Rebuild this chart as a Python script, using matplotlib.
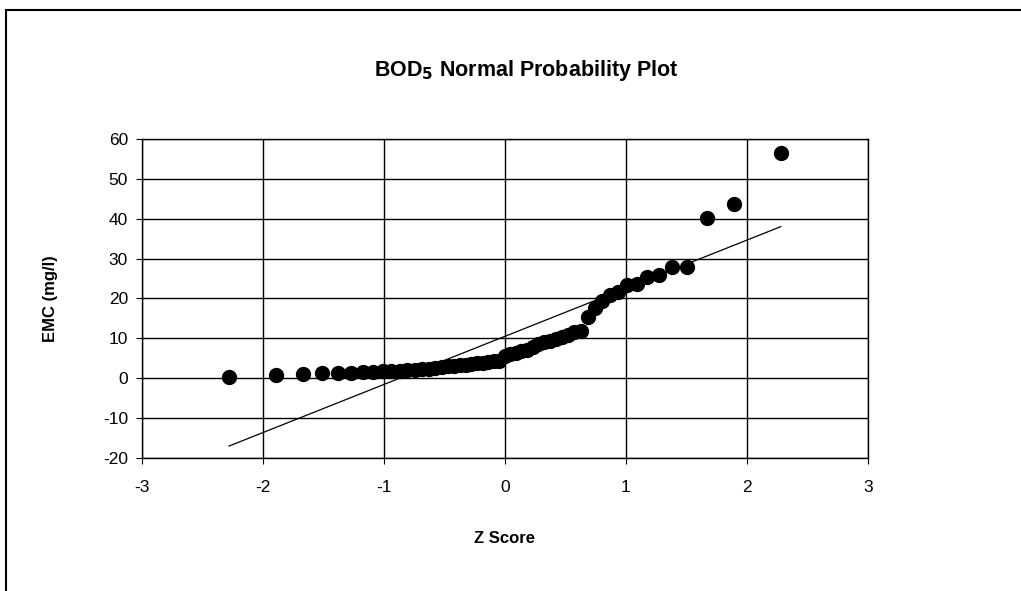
import numpy as np
import matplotlib.pyplot as plt

# --- datos: z score (posiciones de Blom, n=55) y EMC ordenada ---
z_score = [-2.280, -1.890, -1.669, -1.509, -1.380, -1.271, -1.175, -1.090, -1.011,
           -0.938, -0.869, -0.805, -0.744, -0.685, -0.629, -0.574, -0.522, -0.471,
           -0.420, -0.371, -0.323, -0.276, -0.229, -0.182, -0.137, -0.091, -0.045,
           0.000,
           0.045, 0.091, 0.137, 0.182, 0.229, 0.276, 0.323, 0.371, 0.420,
           0.471, 0.522, 0.574, 0.629, 0.685, 0.744, 0.805, 0.869, 0.938,
           1.011, 1.090, 1.175, 1.271, 1.380, 1.509, 1.669, 1.890, 2.280]

emc = [0.3, 0.7, 1.0, 1.2, 1.3, 1.4, 1.5, 1.6, 1.7,
       1.8, 1.9, 2.0, 2.1, 2.3, 2.4, 2.6, 2.8, 3.0,
       3.1, 3.2, 3.4, 3.5, 3.7, 3.9, 4.0, 4.2, 4.4,
       5.5,
       6.0, 6.4, 6.8, 7.2, 7.8, 8.5, 9.0, 9.4, 9.8,
       10.3, 10.9, 11.6, 11.8, 15.3, 17.5, 19.3, 20.8, 21.7,
       23.4, 23.7, 25.3, 26.0, 28.0, 28.0, 40.2, 43.8, 56.4]

# recta de referencia normal (extremos)
linea_z = [-2.28, 2.28]
linea_emc = [-17.0, 38.0]

x_ticks = [-3, -2, -1, 0, 1, 2, 3]
y_ticks = [-20, -10, 0, 10, 20, 30, 40, 50, 60]

plt.rcParams['font.family'] = ['Liberation Sans', 'DejaVu Sans']
plt.rcParams['axes.unicode_minus'] = False

fig = plt.figure(figsize=(10.21, 5.91), dpi=100)
ax = fig.add_axes([0.139, 0.225, 0.711, 0.540])

ax.plot(linea_z, linea_emc, color='black', linewidth=0.9, zorder=2)
ax.plot(z_score, emc, 'o', color='black', markersize=10, zorder=3)

ax.set_xlim(-3, 3); ax.set_ylim(-20, 60)
ax.set_xticks(x_ticks); ax.set_yticks(y_ticks)
ax.grid(True, color='black', linewidth=1.0)
ax.set_axisbelow(True)
for s in ax.spines.values():
    s.set_color('black'); s.set_linewidth(1.0)
ax.tick_params(labelsize=12.5, length=4, color='black')
ax.tick_params(axis='x', pad=12)
ax.tick_params(axis='y', pad=6)

ax.set_xlabel('Z Score', fontsize=12, fontweight='bold', labelpad=26)
ax.set_ylabel('EMC (mg/l)', fontsize=12, fontweight='bold', labelpad=32)
fig.text(0.515, 0.88, 'BOD$_\\mathbf{5}$ Normal Probability Plot', ha='center', va='center',
         fontsize=15.5, fontweight='bold')

# marco exterior del area del grafico
fig.add_artist(plt.Line2D([6/1021, 1.0], [1 - 10/591, 1 - 10/591], color='black', linewidth=1.5))
fig.add_artist(plt.Line2D([6/1021, 6/1021], [0.0, 1 - 10/591], color='black', linewidth=1.5))

fig.savefig('out.png', dpi=100)
